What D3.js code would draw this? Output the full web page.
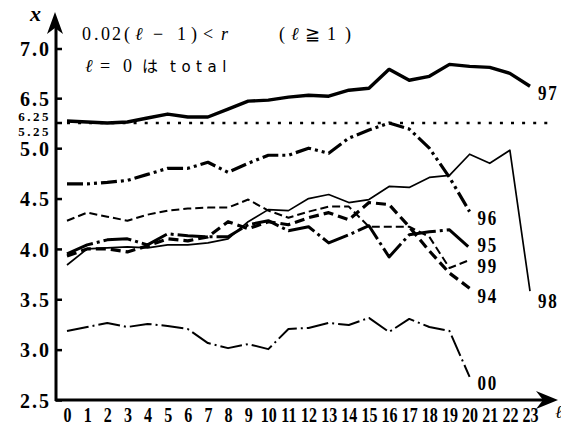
<!DOCTYPE html>
<html>
<head>
<meta charset="utf-8">
<script src="https://cdn.jsdelivr.net/npm/d3@7"></script>
<style>
body { margin: 0; background: #fff; }
</style>
</head>
<body>
<div id="chart"></div>
<script>
// values, one array per curve (index = i)
var s97 = [6.27, 6.26, 6.25, 6.26, 6.30, 6.34, 6.31, 6.31, 6.39, 6.47, 6.48, 6.51, 6.53, 6.52, 6.58, 6.60, 6.79, 6.68, 6.72, 6.84, 6.82, 6.81, 6.75, 6.62];
var s96 = [4.645, 4.645, 4.66, 4.68, 4.74, 4.80, 4.80, 4.86, 4.76, 4.85, 4.93, 4.93, 5.00, 4.95, 5.10, 5.18, 5.25, 5.19, 5.00, 4.71, 4.37];
var s98 = [3.84, 4.00, 4.01, 4.02, 4.01, 4.04, 4.04, 4.06, 4.10, 4.27, 4.39, 4.38, 4.50, 4.54, 4.46, 4.49, 4.62, 4.61, 4.71, 4.73, 4.94, 4.85, 4.98, 3.58];
var s95 = [3.95, 4.04, 4.09, 4.10, 4.04, 4.15, 4.13, 4.12, 4.12, 4.24, 4.28, 4.18, 4.22, 4.06, 4.14, 4.23, 3.92, 4.14, 4.17, 4.19, 4.01];
var s99 = [4.28, 4.36, 4.32, 4.28, 4.34, 4.38, 4.40, 4.41, 4.41, 4.49, 4.38, 4.31, 4.37, 4.42, 4.42, 4.22, 4.22, 4.22, 4.12, 3.81, 3.89];
var s94 = [3.93, 4.00, 4.00, 3.97, 4.03, 4.10, 4.08, 4.12, 4.27, 4.20, 4.27, 4.24, 4.31, 4.36, 4.29, 4.46, 4.44, 4.22, 3.98, 3.76, 3.61];
var s00 = [3.185, 3.225, 3.265, 3.225, 3.255, 3.235, 3.205, 3.065, 3.015, 3.055, 3.005, 3.205, 3.215, 3.265, 3.245, 3.315, 3.175, 3.305, 3.225, 3.185, 2.73];

var xTicks = d3.range(0, 24);
var yTicks = [2.5, 3.0, 3.5, 4.0, 4.5, 5.0, 6.5, 7.0];
var breakLow = 5.25, breakHigh = 6.25;

var width = 561, height = 427;

// broken y axis: 5.25 and 6.25 sit on the same pixel row
var x = d3.scaleLinear().domain([0, 23]).range([67, 530]);
var y = d3.scaleLinear().domain([2.5, breakLow, breakHigh, 7.0]).range([400, 123, 123, 48.5]);

var series = [
    { name: "97", values: s97, w: 3.4, dash: null, dy: 14 },
    { name: "96", values: s96, w: 3.2, dash: "16,4,3,4,3,4", dy: 13 },
    { name: "98", values: s98, w: 1.7, dash: null, dy: 17 },
    { name: "95", values: s95, w: 3, dash: "28,4,3,4", dy: 4 },
    { name: "99", values: s99, w: 2, dash: "8,4", dy: 13 },
    { name: "94", values: s94, w: 3.2, dash: "10,5", dy: 15 },
    { name: "00", values: s00, w: 2, dash: "22,4,2,4", dy: 13 }
];

var numFont = "'Liberation Serif', 'DejaVu Serif', serif";

var svg = d3.select("#chart")
    .append("svg")
    .attr("width", width)
    .attr("height", height);

// dotted line at the break
svg.append("line")
    .attr("x1", x(0)).attr("x2", 552)
    .attr("y1", y(breakLow)).attr("y2", y(breakLow))
    .attr("stroke", "#000")
    .attr("stroke-width", 2.6)
    .attr("stroke-dasharray", "3,8.1");

// curves
var line = d3.line()
    .x(function (d, i) { return x(i); })
    .y(function (d) { return y(d); });

svg.selectAll("path.curve")
    .data(series)
    .enter().append("path")
    .attr("class", "curve")
    .attr("d", function (d) { return line(d.values); })
    .attr("fill", "none")
    .attr("stroke", "#000")
    .attr("stroke-width", function (d) { return d.w; })
    .attr("stroke-dasharray", function (d) { return d.dash; })
    .attr("stroke-linejoin", "round");

svg.selectAll("text.lab")
    .data(series)
    .enter().append("text")
    .attr("class", "lab")
    .attr("transform", function (d) {
        var n = d.values.length - 1;
        return "translate(" + (x(n) + 8) + "," + (y(d.values[n]) + d.dy) + ") scale(0.85,1)";
    })
    .attr("font-family", numFont)
    .attr("font-weight", "bold")
    .attr("font-size", 20)
    .attr("letter-spacing", 2)
    .text(function (d) { return d.name; });

// x axis
var xAxis = svg.append("g")
    .attr("transform", "translate(0,400)")
    .call(d3.axisBottom(x).tickValues(xTicks).tickSize(0).tickPadding(8).tickFormat(d3.format("d")));
xAxis.select(".domain").remove();
xAxis.selectAll("text")
    .attr("font-family", numFont)
    .attr("font-weight", "bold")
    .attr("font-size", 20)
    .attr("transform", "scale(0.8,1)")
    .attr("fill", "#000");

// y axis, ticks pointing inward
var yAxis = svg.append("g")
    .attr("transform", "translate(56,0)")
    .call(d3.axisLeft(y).tickValues(yTicks).tickSizeInner(-6).tickSizeOuter(0).tickPadding(7).tickFormat(d3.format(".1f")));
yAxis.select(".domain").remove();
yAxis.selectAll("line").attr("stroke-width", 2.5);
yAxis.selectAll("text")
    .attr("font-family", numFont)
    .attr("font-weight", "bold")
    .attr("font-size", 20)
    .attr("letter-spacing", 2)
    .attr("dx", 2)
    .attr("dy", "0.36em")
    .attr("fill", "#000");

// break tick + stacked labels
svg.append("line")
    .attr("x1", 56).attr("x2", 62)
    .attr("y1", y(breakLow)).attr("y2", y(breakLow))
    .attr("stroke", "#000").attr("stroke-width", 2.5);
svg.selectAll("text.brk")
    .data([breakHigh, breakLow])
    .enter().append("text")
    .attr("class", "brk")
    .attr("x", 51)
    .attr("y", function (d, i) { return y(breakLow) - 2 + i * 15; })
    .attr("text-anchor", "end")
    .attr("font-family", numFont)
    .attr("font-weight", "bold")
    .attr("font-size", 13)
    .attr("letter-spacing", 2.5)
    .text(function (d) { return d.toFixed(2); });

// axis lines with arrows
svg.append("line")
    .attr("x1", 56).attr("x2", 56).attr("y1", 401).attr("y2", 22)
    .attr("stroke", "#000").attr("stroke-width", 3);
svg.append("path")
    .attr("d", "M55,12 L47,34 L55,28 L63,34 Z")
    .attr("fill", "#000");
svg.append("line")
    .attr("x1", 55).attr("x2", 548).attr("y1", 400).attr("y2", 400)
    .attr("stroke", "#000").attr("stroke-width", 3);
svg.append("path")
    .attr("d", "M558,400 L536,391 L543,400 L536,409 Z")
    .attr("fill", "#000");

// axis names
svg.append("text")
    .attr("x", 30).attr("y", 21)
    .attr("font-family", numFont)
    .attr("font-style", "italic")
    .attr("font-weight", "bold")
    .attr("font-size", 22)
    .text("x");
svg.append("text")
    .attr("x", 555).attr("y", 418)
    .attr("font-family", numFont)
    .attr("font-style", "italic")
    .attr("font-size", 18)
    .text("ℓ");

// annotation, one glyph per tspan to keep the wide typewriter spacing
var note = svg.append("g")
    .attr("font-family", numFont)
    .attr("font-size", 18);

var line1 = [
    ["0", 82], [".", 94], ["0", 101], ["2", 112], ["(", 124], ["ℓ", 135, "italic"],
    ["−", 153], ["1", 177], [")", 191], ["<", 203], ["r", 221, "italic"],
    ["(", 279], ["ℓ", 291, "italic"], ["≧", 305], ["1", 327], [")", 345]
];
var line2 = [["ℓ", 85, "italic"], ["=", 100], ["0", 123]];

var t1 = note.append("text").attr("y", 40);
t1.selectAll("tspan")
    .data(line1)
    .enter().append("tspan")
    .attr("x", function (d) { return d[1]; })
    .attr("font-style", function (d) { return d[2] || null; })
    .text(function (d) { return d[0]; });

var t2 = note.append("text").attr("y", 72);
t2.selectAll("tspan")
    .data(line2)
    .enter().append("tspan")
    .attr("x", function (d) { return d[1]; })
    .attr("font-style", function (d) { return d[2] || null; })
    .text(function (d) { return d[0]; });
t2.append("tspan").attr("x", 142).attr("font-family", "'Noto Sans CJK JP', sans-serif").attr("font-size", 16).text("は");
t2.append("tspan").attr("x", 170).attr("font-family", "'DejaVu Sans', sans-serif").attr("font-size", 15).attr("letter-spacing", 5.5).text("total");
</script>
</body>
</html>
